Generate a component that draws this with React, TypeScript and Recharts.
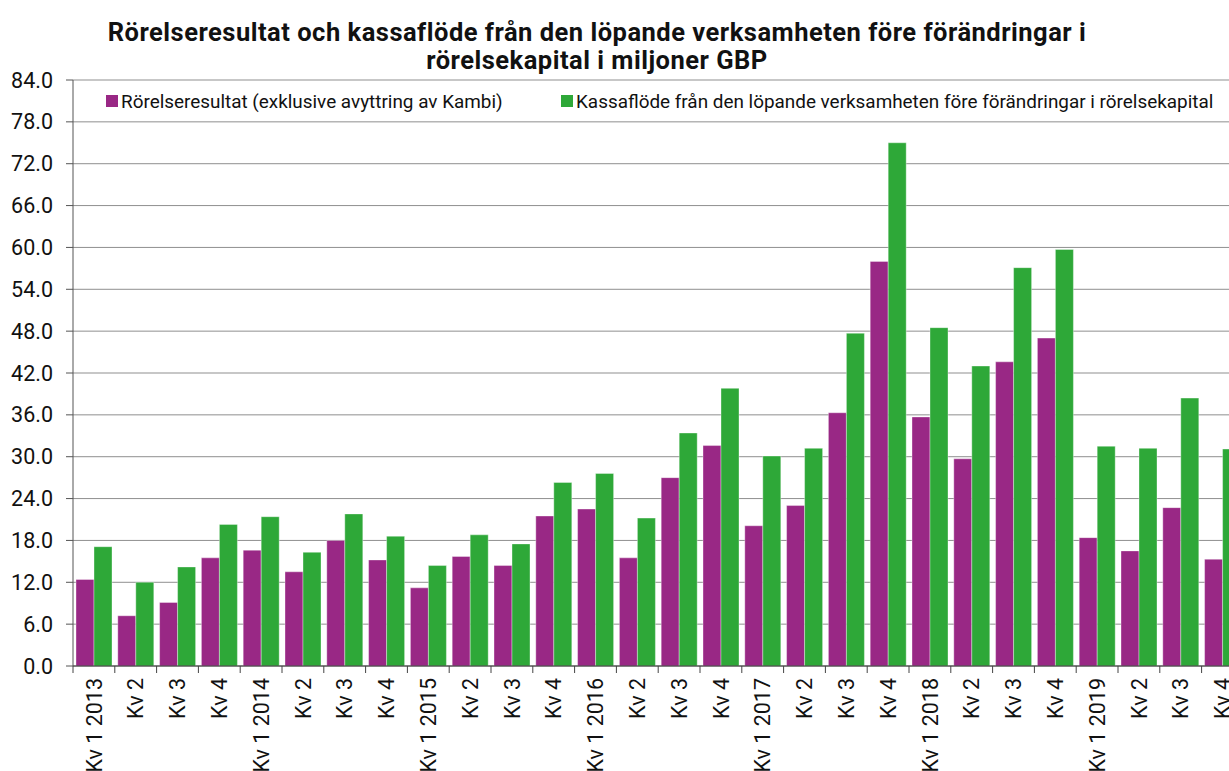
import React from 'react';
import { BarChart, Bar, XAxis, YAxis, CartesianGrid, Legend } from 'recharts';

const categories = [
  'Kv 1 2013', 'Kv 2', 'Kv 3', 'Kv 4',
  'Kv 1 2014', 'Kv 2', 'Kv 3', 'Kv 4',
  'Kv 1 2015', 'Kv 2', 'Kv 3', 'Kv 4',
  'Kv 1 2016', 'Kv 2', 'Kv 3', 'Kv 4',
  'Kv 1 2017', 'Kv 2', 'Kv 3', 'Kv 4',
  'Kv 1 2018', 'Kv 2', 'Kv 3', 'Kv 4',
  'Kv 1 2019', 'Kv 2', 'Kv 3', 'Kv 4',
];

const operatingProfit = [
  12.4, 7.2, 9.1, 15.5,
  16.6, 13.5, 18.0, 15.2,
  11.2, 15.7, 14.4, 21.5,
  22.5, 15.5, 27.0, 31.6,
  20.1, 23.0, 36.3, 58.0,
  35.7, 29.7, 43.6, 47.0,
  18.4, 16.5, 22.7, 15.3,
];

const cashFlow = [
  17.1, 12.0, 14.2, 20.3,
  21.4, 16.3, 21.8, 18.6,
  14.4, 18.8, 17.5, 26.3,
  27.6, 21.2, 33.4, 39.8,
  30.1, 31.2, 47.7, 75.0,
  48.5, 43.0, 57.1, 59.7,
  31.5, 31.2, 38.4, 31.1,
];

const yTicks = [0, 6, 12, 18, 24, 30, 36, 42, 48, 54, 60, 66, 72, 78, 84];

const titleLines = [
  'Rörelseresultat och kassaflöde från den löpande verksamheten före förändringar i',
  'rörelsekapital i miljoner GBP',
];
const seriesOpName = 'Rörelseresultat (exklusive avyttring av Kambi)';
const seriesCfName = 'Kassaflöde från den löpande verksamheten före förändringar i rörelsekapital';

const PURPLE = '#992885';
const GREEN = '#2EA838';
const FONT = 'Roboto, "Noto Sans", sans-serif';

const data = categories.map((name, i) => ({
  name,
  op: operatingProfit[i],
  cf: cashFlow[i],
}));

const XTick = (props: any) => {
  const { x, y, payload, width, visibleTicksCount } = props;
  const band = width && visibleTicksCount ? width / visibleTicksCount : 41.8;
  const lx = x - band / 2;
  return (
    <g>
      <line x1={lx} x2={lx} y1={y - 12} y2={y - 5} stroke="#444" strokeWidth={1} />
      <text
        x={x}
        y={y}
        transform={`rotate(-90 ${x} ${y})`}
        textAnchor="end"
        dy="0.36em"
        fontSize={21.5}
        fill="#111"
        fontFamily={FONT}
      >
        {payload.value}
      </text>
    </g>
  );
};

const LegendContent = () => (
  <div style={{ position: 'relative', height: 20, fontFamily: FONT, fontSize: 18.9, color: '#111' }}>
    <div style={{ position: 'absolute', left: 98, top: 0, display: 'flex', alignItems: 'center', whiteSpace: 'nowrap', height: 20 }}>
      <span style={{ display: 'inline-block', width: 12, height: 12, background: PURPLE, marginRight: 3 }} />
      {seriesOpName}
    </div>
    <div style={{ position: 'absolute', left: 553, top: 0, display: 'flex', alignItems: 'center', whiteSpace: 'nowrap', height: 20 }}>
      <span style={{ display: 'inline-block', width: 12, height: 12, background: GREEN, marginRight: 3 }} />
      {seriesCfName}
    </div>
  </div>
);

export default function App() {
  return (
    <div
      style={{
        position: 'absolute',
        top: 8,
        left: 8,
        width: 1221,
        height: 763,
        overflow: 'hidden',
        background: '#fff',
      }}
    >
      <BarChart
        width={1250}
        height={763}
        data={data}
        margin={{ top: 72, right: 14.6, bottom: 5, left: 0 }}
        barCategoryGap={3}
        barGap={0}
      >
        <CartesianGrid vertical={false} stroke="#8f8f8f" strokeWidth={1} />
        <XAxis
          dataKey="name"
          interval={0}
          height={100}
          tickSize={7}
          tickMargin={5}
          tickLine={false}
          axisLine={{ stroke: '#333', strokeWidth: 1.2 }}
          tick={<XTick />}
        />
        <YAxis
          width={65}
          domain={[0, 84]}
          ticks={yTicks}
          interval={0}
          tickSize={7}
          tickMargin={13}
          tickFormatter={(v: number) => v.toFixed(1)}
          axisLine={{ stroke: '#555' }}
          tickLine={{ stroke: '#555' }}
          tick={{ fontSize: 21.5, fill: '#111', fontFamily: FONT }}
        />
        <Legend
          layout="horizontal"
          verticalAlign="middle"
          align="center"
          content={<LegendContent />}
          wrapperStyle={{ top: 83, left: 0, width: 1250, height: 20 }}
        />
        <Bar dataKey="op" name={seriesOpName} fill={PURPLE} stroke="rgba(255,255,255,0.45)" strokeWidth={0.8} isAnimationActive={false} />
        <Bar dataKey="cf" name={seriesCfName} fill={GREEN} stroke="rgba(255,255,255,0.45)" strokeWidth={0.8} isAnimationActive={false} />
      </BarChart>
      <div
        style={{
          position: 'absolute',
          top: 9.5,
          left: 0,
          width: 1178,
          textAlign: 'center',
          fontFamily: FONT,
          fontWeight: 700,
          fontSize: 25.5,
          letterSpacing: 0.5,
          lineHeight: '28.5px',
          color: '#111',
          pointerEvents: 'none',
        }}
      >
        {titleLines[0]}
        <br />
        {titleLines[1]}
      </div>
    </div>
  );
}
